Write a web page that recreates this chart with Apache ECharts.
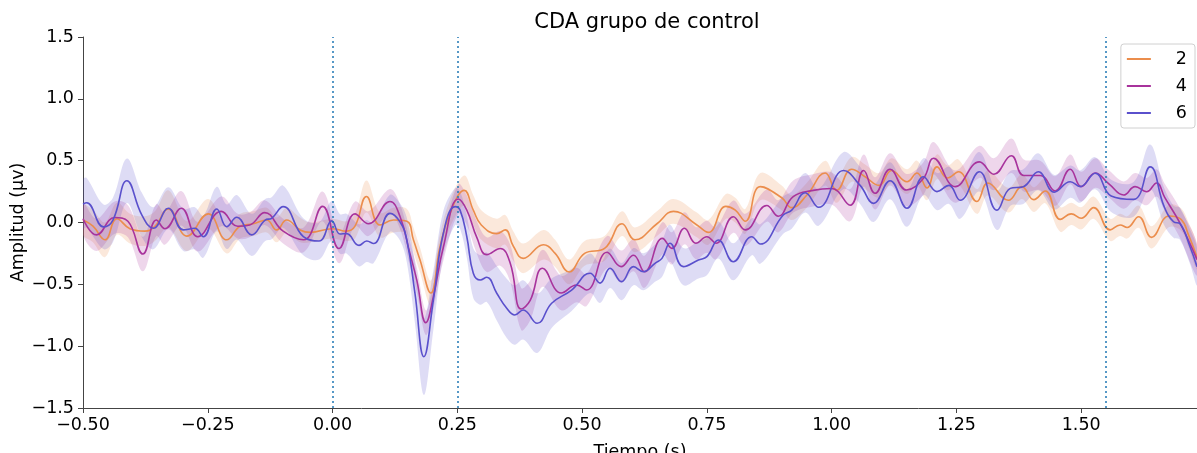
<!DOCTYPE html>
<html>
<head>
<meta charset="utf-8">
<script src="https://cdn.jsdelivr.net/npm/echarts@6/dist/echarts.min.js"></script>
<style>
html,body{margin:0;padding:0;background:#fff;}
#chart{width:1197px;height:453px;}
</style>
</head>
<body>
<div id="chart"></div>
<script>
// Each point: [time (s), mean amplitude (µV), half-width of shaded band]
const cond2 = [
  [-0.50,0.02,0.12],[-0.48,-0.03,0.13],[-0.456,-0.14,0.14],[-0.432,0.03,0.13],[-0.406,-0.05,0.12],
  [-0.376,-0.07,0.12],[-0.356,-0.03,0.12],[-0.329,0.11,0.15],[-0.292,-0.11,0.12],[-0.249,0.07,0.12],
  [-0.212,-0.14,0.11],[-0.185,-0.03,0.1],[-0.159,-0.01,0.1],[-0.132,0.02,0.1],[-0.112,-0.06,0.1],
  [-0.092,0.02,0.1],[-0.065,-0.06,0.1],[-0.045,-0.08,0.08],[0.0,-0.05,0.08],[0.028,-0.07,0.08],
  [0.045,-0.03,0.1],[0.068,0.21,0.13],[0.095,-0.02,0.1],[0.122,0.02,0.1],[0.149,0.01,0.1],
  [0.162,-0.14,0.1],[0.175,-0.30,0.1],[0.197,-0.57,0.1],[0.215,-0.20,0.1],[0.235,0.07,0.11],
  [0.264,0.26,0.12],[0.282,0.10,0.12],[0.298,-0.02,0.12],[0.329,-0.09,0.12],[0.346,-0.06,0.12],
  [0.362,-0.19,0.12],[0.382,-0.29,0.12],[0.4225,-0.18,0.12],[0.446,-0.25,0.11],[0.474,-0.40,0.1],
  [0.505,-0.25,0.1],[0.545,-0.21,0.1],[0.58,-0.01,0.1],[0.606,-0.14,0.1],[0.65,-0.01,0.1],
  [0.683,0.09,0.1],[0.73,-0.02,0.1],[0.753,-0.08,0.1],[0.788,0.13,0.1],[0.807,0.10,0.1],
  [0.827,0.01,0.1],[0.857,0.29,0.11],[0.90,0.20,0.1],[0.92,0.12,0.1],[0.95,0.22,0.1],
  [0.987,0.40,0.1],[1.01,0.26,0.1],[1.04,0.43,0.1],[1.067,0.37,0.1],[1.095,0.30,0.1],
  [1.12,0.42,0.1],[1.151,0.33,0.1],[1.171,0.40,0.1],[1.191,0.28,0.1],[1.211,0.45,0.1],
  [1.232,0.36,0.1],[1.254,0.41,0.1],[1.291,0.17,0.1],[1.313,0.32,0.1],[1.354,0.18,0.1],
  [1.381,0.29,0.1],[1.405,0.185,0.1],[1.428,0.255,0.1],[1.458,0.025,0.1],[1.48,0.07,0.09],
  [1.50,0.034,0.09],[1.525,0.12,0.09],[1.558,-0.06,0.09],[1.578,-0.02,0.09],[1.592,-0.04,0.09],
  [1.615,0.047,0.09],[1.641,-0.12,0.09],[1.676,0.053,0.09],[1.70,0.025,0.09],[1.715,-0.10,0.1],
  [1.732,-0.28,0.1]
];
const cond4 = [
  [-0.50,0.03,0.13],[-0.473,-0.10,0.13],[-0.4365,0.04,0.13],[-0.41,0.01,0.13],[-0.38,-0.255,0.14],
  [-0.353,0.02,0.13],[-0.336,-0.05,0.13],[-0.303,0.115,0.14],[-0.27,-0.115,0.12],[-0.223,0.09,0.12],
  [-0.19,-0.03,0.1],[-0.166,-0.02,0.1],[-0.136,0.08,0.1],[-0.099,-0.07,0.1],[-0.058,-0.14,0.1],
  [-0.02,0.13,0.12],[0.013,-0.21,0.12],[0.045,0.07,0.1],[0.072,-0.01,0.1],[0.115,0.17,0.1],
  [0.135,0.05,0.1],[0.155,-0.25,0.1],[0.169,-0.47,0.1],[0.187,-0.81,0.1],[0.202,-0.60,0.1],
  [0.222,-0.20,0.11],[0.252,0.19,0.12],[0.269,0.10,0.12],[0.289,-0.12,0.13],[0.309,-0.26,0.14],
  [0.336,-0.21,0.14],[0.356,-0.33,0.15],[0.378,-0.70,0.17],[0.396,-0.63,0.16],[0.421,-0.37,0.15],
  [0.458,-0.57,0.14],[0.489,-0.505,0.14],[0.509,-0.546,0.13],[0.55,-0.24,0.13],[0.578,-0.357,0.13],
  [0.603,-0.265,0.13],[0.625,-0.398,0.13],[0.661,-0.128,0.13],[0.68,-0.209,0.13],[0.705,-0.047,0.13],
  [0.728,-0.168,0.13],[0.75,-0.115,0.13],[0.768,-0.168,0.13],[0.803,0.047,0.13],[0.827,-0.06,0.13],
  [0.87,0.137,0.13],[0.893,0.05,0.13],[0.923,0.21,0.13],[0.963,0.26,0.13],[1.0,0.275,0.13],
  [1.037,0.14,0.13],[1.064,0.42,0.13],[1.087,0.236,0.13],[1.117,0.43,0.13],[1.15,0.263,0.13],
  [1.184,0.357,0.13],[1.204,0.52,0.13],[1.2475,0.29,0.13],[1.296,0.49,0.13],[1.325,0.39,0.13],
  [1.36,0.54,0.14],[1.385,0.38,0.13],[1.418,0.38,0.12],[1.448,0.255,0.12],[1.478,0.43,0.12],
  [1.50,0.29,0.12],[1.528,0.40,0.12],[1.556,0.31,0.11],[1.585,0.222,0.11],[1.608,0.29,0.11],
  [1.631,0.249,0.11],[1.651,0.32,0.11],[1.667,0.205,0.11],[1.698,-0.006,0.12],[1.732,-0.30,0.13]
];
const cond6 = [
  [-0.50,0.15,0.2],[-0.4926,0.16,0.2],[-0.459,-0.035,0.18],[-0.44,0.02,0.18],[-0.412,0.338,0.18],
  [-0.382,0.06,0.18],[-0.359,-0.047,0.17],[-0.329,0.115,0.17],[-0.299,-0.06,0.17],[-0.276,-0.047,0.17],
  [-0.259,-0.115,0.17],[-0.232,0.109,0.18],[-0.212,-0.034,0.18],[-0.192,0.042,0.18],[-0.162,-0.10,0.17],
  [-0.135,0.02,0.17],[-0.122,0.034,0.17],[-0.099,0.128,0.17],[-0.0585,-0.115,0.15],[-0.027,-0.15,0.15],
  [-0.0016,0.013,0.16],[0.015,-0.093,0.16],[0.028,-0.09,0.16],[0.053,-0.185,0.17],[0.0685,-0.15,0.17],
  [0.082,-0.17,0.16],[0.115,0.074,0.15],[0.135,0.006,0.15],[0.1487,-0.14,0.18],[0.165,-0.57,0.24],
  [0.183,-1.085,0.31],[0.202,-0.627,0.24],[0.222,-0.087,0.18],[0.2455,0.128,0.15],[0.2555,0.10,0.15],
  [0.269,-0.115,0.17],[0.282,-0.41,0.2],[0.296,-0.465,0.2],[0.309,-0.443,0.2],[0.329,-0.572,0.22],
  [0.349,-0.694,0.24],[0.365,-0.748,0.24],[0.382,-0.707,0.24],[0.41,-0.815,0.24],[0.439,-0.653,0.2],
  [0.479,-0.546,0.17],[0.516,-0.41,0.16],[0.536,-0.49,0.16],[0.556,-0.37,0.16],[0.579,-0.478,0.15],
  [0.603,-0.357,0.15],[0.623,-0.398,0.15],[0.646,-0.33,0.15],[0.66,-0.29,0.15],[0.676,-0.168,0.15],
  [0.703,-0.357,0.15],[0.733,-0.303,0.15],[0.75,-0.276,0.15],[0.773,-0.141,0.15],[0.803,-0.317,0.15],
  [0.84,-0.115,0.15],[0.857,-0.174,0.16],[0.903,0.06,0.15],[0.92,0.10,0.15],[0.947,0.24,0.16],
  [0.974,0.123,0.15],[1.024,0.42,0.15],[1.057,0.30,0.15],[1.084,0.155,0.15],[1.117,0.338,0.15],
  [1.151,0.115,0.15],[1.184,0.37,0.15],[1.211,0.25,0.15],[1.235,0.30,0.15],[1.2575,0.18,0.15],
  [1.296,0.41,0.16],[1.331,0.10,0.16],[1.358,0.276,0.14],[1.384,0.29,0.14],[1.414,0.41,0.15],
  [1.446,0.245,0.14],[1.478,0.33,0.13],[1.498,0.29,0.13],[1.528,0.398,0.13],[1.56,0.215,0.13],
  [1.605,0.187,0.14],[1.638,0.45,0.18],[1.666,0.13,0.15],[1.685,0.006,0.13],[1.698,-0.01,0.13],
  [1.718,-0.196,0.14],[1.732,-0.357,0.15]
];
const seriesNames = ['2', '4', '6'];
const seriesColors = ['#eb8d4c', '#a8339c', '#5a50cc'];
const markerTimes = [0, 0.25, 1.55];
const xTicks = { min: -0.5, max: 1.732, step: 0.25 };
const yTicks = { min: -1.5, max: 1.5, step: 0.5 };

const condData = [cond2, cond4, cond6];
const fmt = (v, d) => (v < 0 ? '\u2212' : '') + Math.abs(v).toFixed(d);

function bandSeries(data, color) {
  return {
    type: 'custom',
    silent: true,
    z: 1,
    clip: true,
    data: [[data[0][0], data[0][1]]],
    renderItem: function (params, api) {
      const pts = [];
      for (let i = 0; i < data.length; i++) pts.push(api.coord([data[i][0], data[i][1] + data[i][2]]));
      for (let i = data.length - 1; i >= 0; i--) pts.push(api.coord([data[i][0], data[i][1] - data[i][2]]));
      return {
        type: 'polygon',
        shape: { points: pts, smooth: 0.35 },
        style: { fill: color, opacity: 0.2 }
      };
    }
  };
}

const series = [];
condData.forEach((d, i) => series.push(bandSeries(d, seriesColors[i])));
condData.forEach((d, i) => {
  const s = {
    name: seriesNames[i],
    type: 'line',
    z: 3,
    symbol: 'none',
    showSymbol: false,
    smooth: 0.45,
    data: d.map(p => [p[0], p[1]]),
    lineStyle: { color: seriesColors[i], width: 1.6 },
    itemStyle: { color: seriesColors[i] }
  };
  if (i === 0) {
    s.markLine = {
      silent: true,
      symbol: 'none',
      label: { show: false },
      lineStyle: { color: '#1f77b4', type: [2, 3], width: 1.5 },
      data: markerTimes.map(t => ({ xAxis: t }))
    };
  }
  series.push(s);
});

const chart = echarts.init(document.getElementById('chart'), null, { renderer: 'canvas' });
chart.setOption({
  animation: false,
  backgroundColor: '#fff',
  textStyle: { fontFamily: 'DejaVu Sans' },
  title: {
    text: 'CDA grupo de control',
    left: 642, top: 7, textAlign: 'center',
    textStyle: { fontSize: 21, fontWeight: 'normal', color: '#000', fontFamily: 'DejaVu Sans' }
  },
  legend: {
    orient: 'vertical',
    right: 2, top: 44,
    data: seriesNames.map(n => ({ name: n, icon: 'rect' })),
    itemWidth: 24, itemHeight: 2, itemGap: 9,
    padding: [6, 8, 6, 6],
    borderColor: '#d0d0d0', borderWidth: 1, borderRadius: 3,
    backgroundColor: 'rgba(255,255,255,0.85)',
    textStyle: { fontSize: 17.5, color: '#000', fontFamily: 'DejaVu Sans', padding: [0, 0, 0, 20] }
  },
  grid: { left: 83, right: 0, top: 37, bottom: 45, containLabel: false, outerBoundsMode: 'none' },
  xAxis: {
    type: 'value',
    min: xTicks.min, max: xTicks.max, interval: xTicks.step,
    name: 'Tiempo (s)', nameLocation: 'middle', nameGap: 35,
    nameTextStyle: { fontSize: 17.5, color: '#000', fontFamily: 'DejaVu Sans' },
    axisLine: { show: true, onZero: false, lineStyle: { color: '#444', width: 1 } },
    axisTick: { show: true, length: 5, lineStyle: { color: '#444' } },
    axisLabel: { fontSize: 17.5, color: '#000', margin: 8, showMaxLabel: false, formatter: v => fmt(v, 2) },
    splitLine: { show: false }
  },
  yAxis: {
    type: 'value',
    min: yTicks.min, max: yTicks.max, interval: yTicks.step,
    name: 'Amplitud (\u00b5v)', nameLocation: 'middle', nameGap: 56, nameMoveOverlap: false,
    nameTextStyle: { fontSize: 17.5, color: '#000', fontFamily: 'DejaVu Sans' },
    axisLine: { show: true, onZero: false, lineStyle: { color: '#444', width: 1 } },
    axisTick: { show: true, length: 5, lineStyle: { color: '#444' } },
    axisLabel: { fontSize: 17.5, color: '#000', margin: 9, formatter: v => fmt(v, 1) },
    splitLine: { show: false }
  },
  series: series
});
</script>
</body>
</html>
